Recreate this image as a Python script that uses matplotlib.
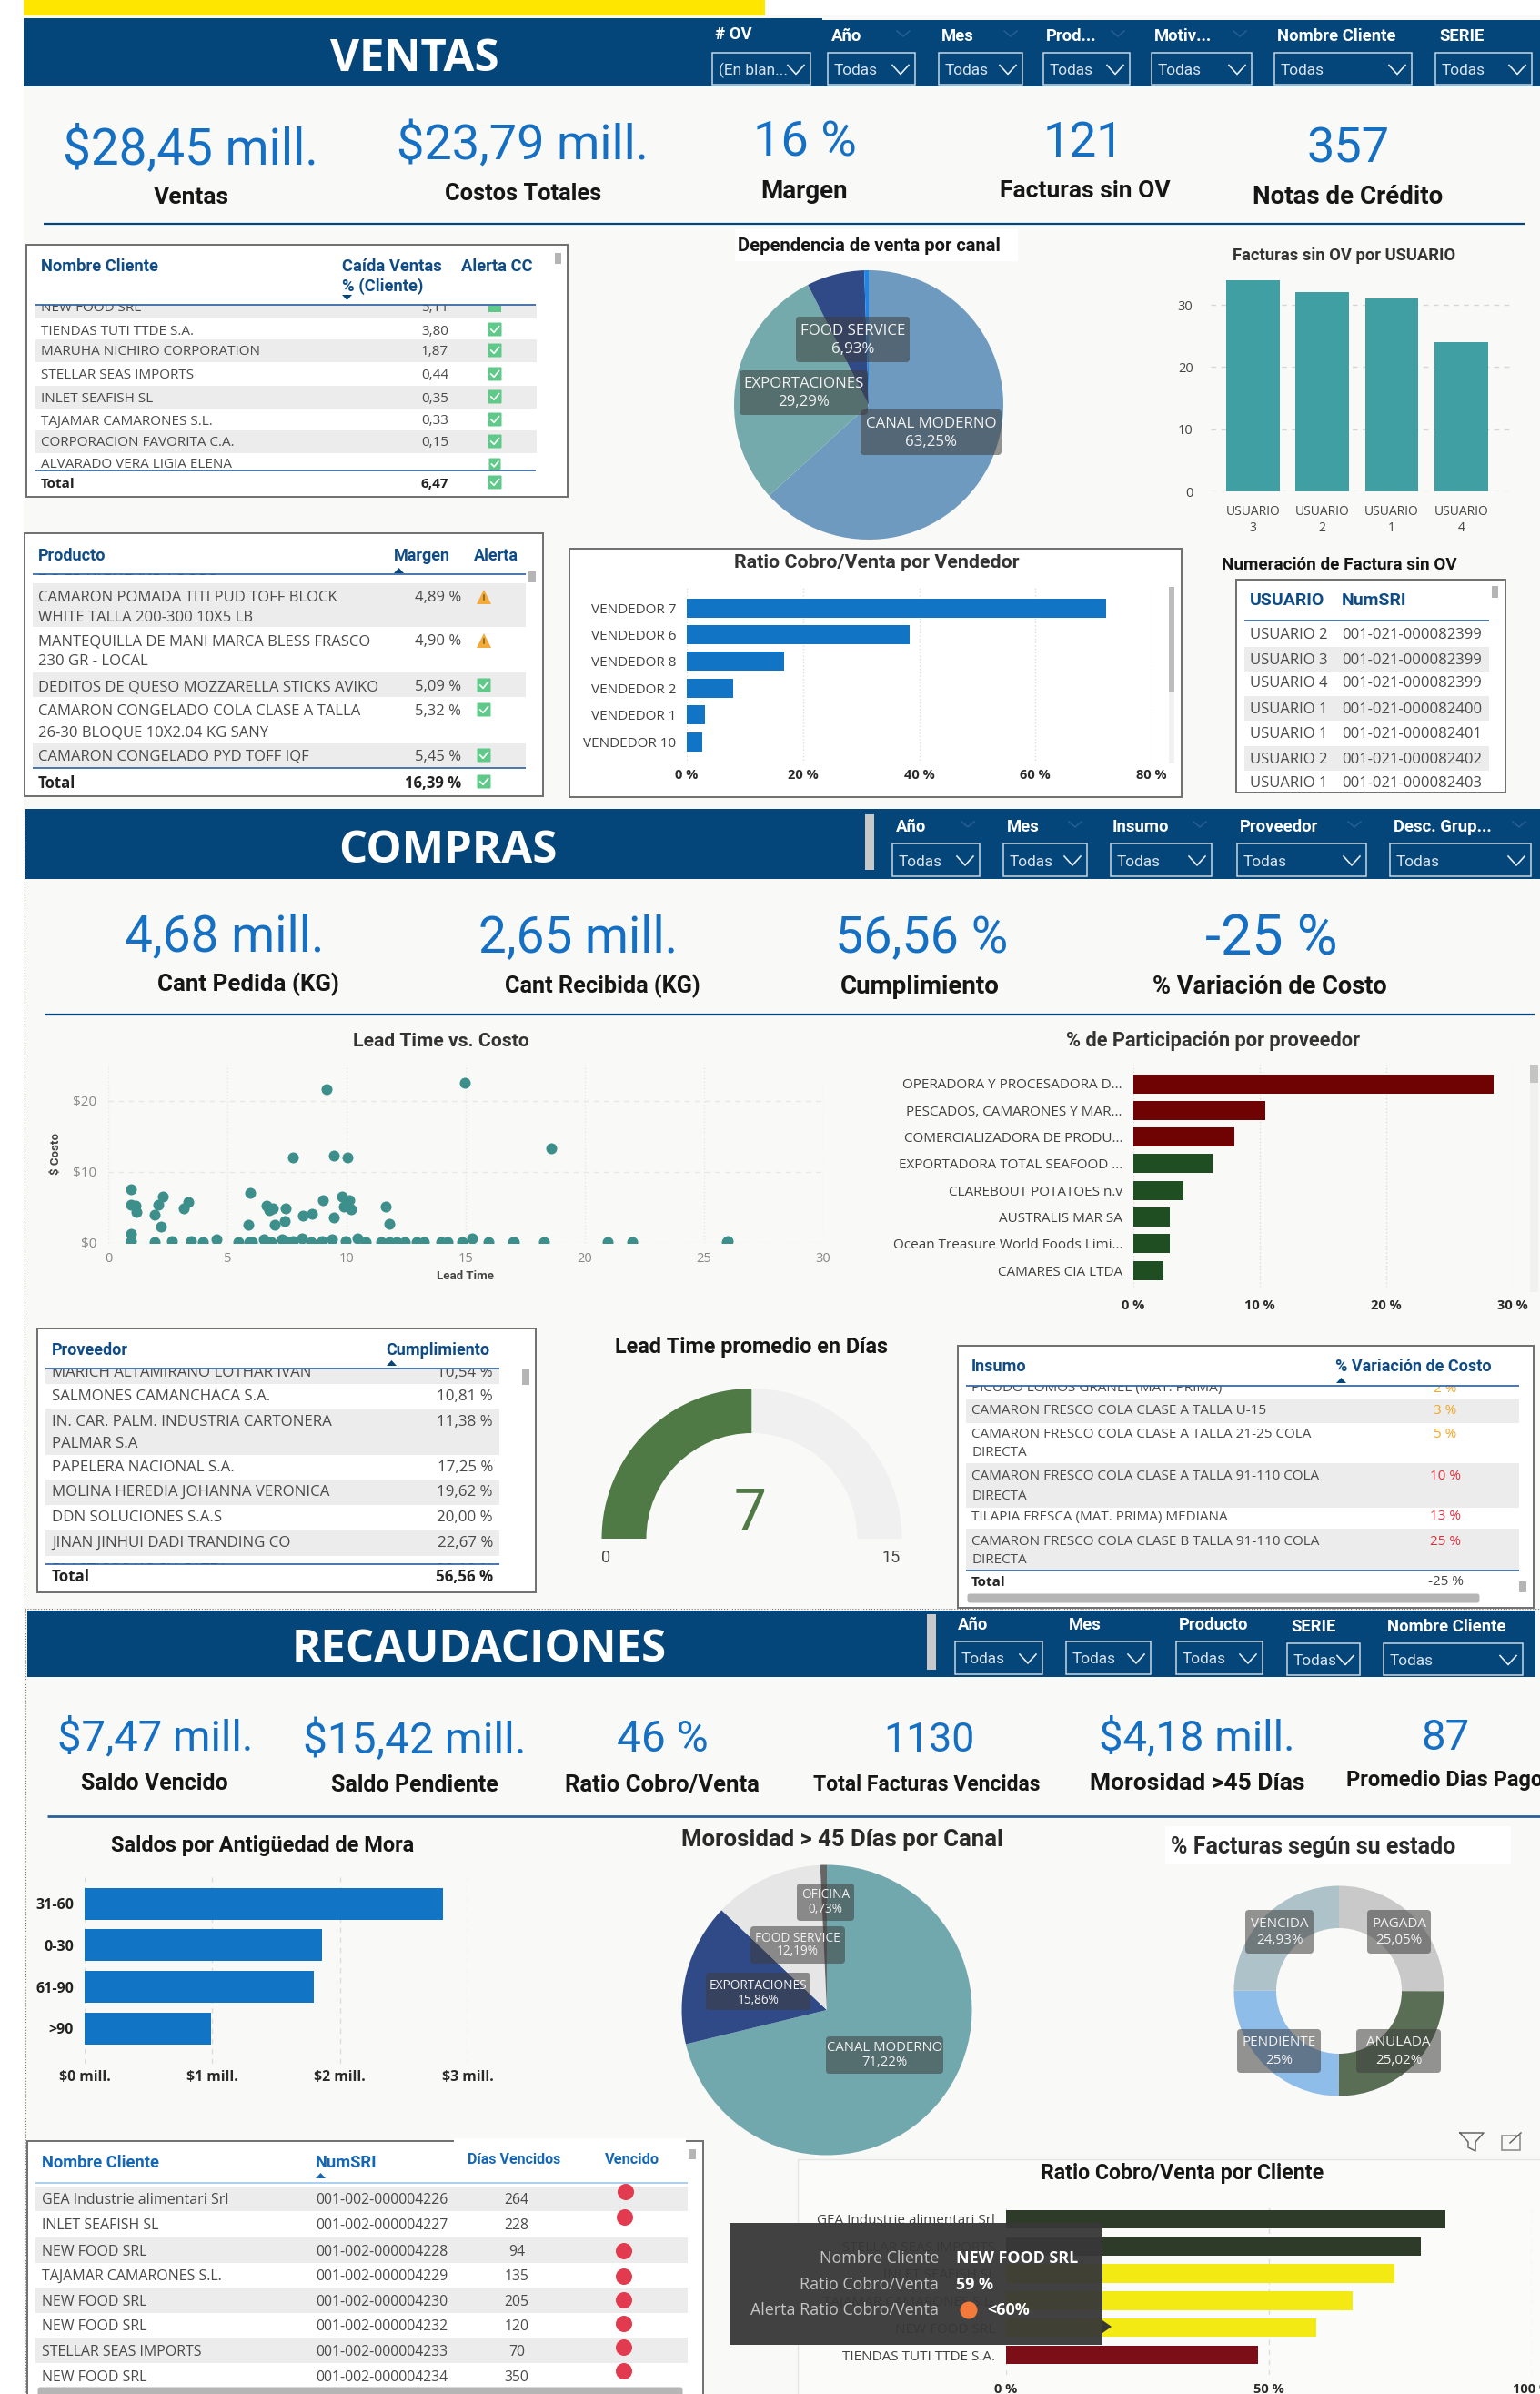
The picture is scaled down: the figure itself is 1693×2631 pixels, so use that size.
import matplotlib
matplotlib.use("Agg")
import matplotlib.pyplot as plt
from matplotlib.patches import Rectangle, FancyBboxPatch, Polygon, Circle

W, H = 1693, 2631
plt.rcParams['font.family'] = ['Open Sans', 'DejaVu Sans']

# ---------- DATA ----------
canal_labels = ["CANAL MODERNO", "EXPORTACIONES", "FOOD SERVICE", "OTROS"]
canal_values = [63.25, 29.29, 6.93, 0.53]
usuarios = ["USUARIO\n3", "USUARIO\n2", "USUARIO\n1", "USUARIO\n4"]
facturas_sin_ov = [34, 32, 31, 24]
vendedores = ["VENDEDOR 7", "VENDEDOR 6", "VENDEDOR 8", "VENDEDOR 2", "VENDEDOR 1", "VENDEDOR 10"]
ratio_vendedor = [72.2, 38.4, 16.7, 8.0, 3.1, 2.7]

clientes_t1 = ["NEW FOOD SRL", "TIENDAS TUTI TTDE S.A.", "MARUHA NICHIRO CORPORATION", "STELLAR SEAS IMPORTS",
               "INLET SEAFISH SL", "TAJAMAR CAMARONES S.L.", "CORPORACION FAVORITA C.A.", "ALVARADO VERA LIGIA ELENA"]
caida_t1 = ["5,11", "3,80", "1,87", "0,44", "0,35", "0,33", "0,15", ""]
productos = ["CAMARON POMADA TITI PUD TOFF BLOCK\nWHITE TALLA 200-300 10X5 LB",
             "MANTEQUILLA DE MANI MARCA BLESS FRASCO\n230 GR - LOCAL",
             "DEDITOS DE QUESO MOZZARELLA STICKS AVIKO",
             "CAMARON CONGELADO COLA CLASE A TALLA\n26-30 BLOQUE 10X2.04 KG SANY",
             "CAMARON CONGELADO PYD TOFF IQF"]
margen = ["4,89 %", "4,90 %", "5,09 %", "5,32 %", "5,45 %"]
alerta_margen = ["warn", "warn", "ok", "ok", "ok"]
num_usuario = ["USUARIO 2", "USUARIO 3", "USUARIO 4", "USUARIO 1", "USUARIO 1", "USUARIO 2", "USUARIO 1"]
num_sri = ["001-021-000082399", "001-021-000082399", "001-021-000082399", "001-021-000082400",
           "001-021-000082401", "001-021-000082402", "001-021-000082403"]

lead_time = [9.15, 14.97, 18.6, 7.73, 9.48, 10.05, 0.96, 5.95, 2.28, 9.8, 10.1, 9.0, 3.35, 0.96, 2.1, 1.14, 6.63,
             11.65, 7.44, 3.17, 6.9, 6.74, 9.87, 10.18, 1.18, 1.95, 8.56, 8.17, 9.48, 7.4, 5.87, 7.0, 11.78, 2.2, 0.96,
             0.96, 1.95, 2.67, 3.48, 3.96, 4.55, 5.47, 5.93, 6.02, 6.52, 6.85, 7.29, 7.46, 7.73, 8.12, 8.5, 8.97, 9.39,
             9.96, 10.46, 10.79, 11.45, 11.78, 12.1, 12.43, 12.94, 13.25, 13.97, 14.23, 14.84, 15.28, 15.95, 16.97,
             17.03, 18.3, 20.97, 21.98, 25.96, 26.0]
costo = [21.6, 22.6, 13.3, 12.0, 12.3, 12.0, 7.6, 7.1, 6.5, 6.5, 6.0, 6.0, 5.7, 5.4, 5.4, 5.2, 5.2,
         5.15, 4.9, 4.9, 4.9, 4.6, 5.1, 4.8, 4.3, 4.0, 4.1, 3.9, 3.6, 3.1, 2.5, 2.5, 2.65, 2.3, 1.25,
         0.2, 0.1, 0.2, 0.25, 0.1, 0.45, 0.1, 0.1, 0.1, 0.55, 0.1, 0.5, 0.2, 0.2, 0.6, 0.15, 0.2, 0.5,
         0.2, 0.6, 0.1, 0.15, 0.1, 0.15, 0.1, 0.1, 0.1, 0.15, 0.1, 0.1, 0.7, 0.1, 0.1, 0.1, 0.1, 0.1, 0.1, 0.1, 0.2]
proveedores = ["OPERADORA Y PROCESADORA D...", "PESCADOS, CAMARONES Y MAR...", "COMERCIALIZADORA DE PRODU...",
               "EXPORTADORA TOTAL SEAFOOD ...", "CLAREBOUT POTATOES n.v", "AUSTRALIS MAR SA",
               "Ocean Treasure World Foods Limi...", "CAMARES CIA LTDA"]
participacion = [28.5, 10.4, 8.0, 6.26, 3.95, 2.9, 2.87, 2.39]
prov_colors = ["#6f0303"] * 3 + ["#1f4e22"] * 5
prov_tabla = ["MARICH ALTAMIRANO LOTHAR IVAN", "SALMONES CAMANCHACA S.A.", "IN. CAR. PALM. INDUSTRIA CARTONERA\nPALMAR S.A",
              "PAPELERA NACIONAL S.A.", "MOLINA HEREDIA JOHANNA VERONICA", "DDN SOLUCIONES S.A.S",
              "JINAN JINHUI DADI TRANDING CO", "PLASTICOS KG SU CATEA"]
cumplimiento = ["10,54 %", "10,81 %", "11,38 %", "17,25 %", "19,62 %", "20,00 %", "22,67 %", "23,18 %"]
gauge_value, gauge_max = 7.5, 15
insumos = ["PICUDO LOMOS GRANEL (MAT. PRIMA)", "CAMARON FRESCO COLA CLASE A TALLA U-15",
           "CAMARON FRESCO COLA CLASE A TALLA 21-25 COLA\nDIRECTA", "CAMARON FRESCO COLA CLASE A TALLA 91-110 COLA\nDIRECTA",
           "TILAPIA FRESCA (MAT. PRIMA) MEDIANA", "CAMARON FRESCO COLA CLASE B TALLA 91-110 COLA\nDIRECTA"]
variacion = ["2 %", "3 %", "5 %", "10 %", "13 %", "25 %"]

mora_labels = ["31-60", "0-30", "61-90", ">90"]
mora_values = [2.806, 1.859, 1.794, 0.993]
moros_labels = ["CANAL MODERNO", "EXPORTACIONES", "FOOD SERVICE", "OFICINA"]
moros_values = [71.22, 15.86, 12.19, 0.73]
estado_labels = ["PAGADA", "ANULADA", "PENDIENTE", "VENCIDA"]
estado_values = [25.05, 25.02, 25.0, 24.93]
rec_clientes = ["GEA Industrie alimentari Srl", "INLET SEAFISH SL", "NEW FOOD SRL", "TAJAMAR CAMARONES S.L.",
                "NEW FOOD SRL", "NEW FOOD SRL", "STELLAR SEAS IMPORTS", "NEW FOOD SRL"]
rec_sri = ["001-002-000004226", "001-002-000004227", "001-002-000004228", "001-002-000004229",
           "001-002-000004230", "001-002-000004232", "001-002-000004233", "001-002-000004234"]
rec_dias = [264, 228, 94, 135, 205, 120, 70, 350]
cli_labels = ["GEA Industrie alimentari Srl", "STELLAR SEAS IMPORTS", "INLET SEAFISH SL", "TAJAMAR CAMARONES S.L.",
              "NEW FOOD SRL", "TIENDAS TUTI TTDE S.A."]
cli_values = [83.6, 78.9, 73.8, 65.9, 59.0, 48.0]
cli_colors = ["#2d3b28", "#2d3b28", "#f2ea12", "#f2ea12", "#f2ea12", "#7c0e18"]

# ---------- STYLE ----------
NAVY = "#04457a"; BG = "#f9f9f7"; KPI = "#1570c4"; BAR = "#1274c5"; HEAD = "#0f4c86"
TXT = "#4a4a4a"; BAND = "#ececec"; BORDER = "#6f6f6f"; DIN = "Roboto"

fig = plt.figure(figsize=(W / 100, H / 100), dpi=100, facecolor="white")


def px_axes(x0, y0, x1, y1, z=2):
    a = fig.add_axes([x0 / W, 1 - y1 / H, (x1 - x0) / W, (y1 - y0) / H], zorder=z)
    a.patch.set_alpha(0)
    return a


base = px_axes(0, 0, W, H, 0)
over = px_axes(0, 0, W, H, 5)
for a in (base, over):
    a.set_xlim(0, W); a.set_ylim(H, 0); a.axis("off")


def T(x, y, s, size=10, color=TXT, weight="normal", ha="center", va="center", fam=None, ax=base, clip=None, **kw):
    t = ax.text(x, y + 2, s, fontsize=size, color=color, fontweight=weight, ha=ha, va=va,
                family=fam if fam else ['Open Sans', 'DejaVu Sans'], **kw)
    if clip:
        t.set_clip_path(Rectangle((clip[0], clip[1]), clip[2] - clip[0], clip[3] - clip[1], transform=ax.transData))
        t.set_clip_on(True)
    return t


def R(x0, y0, x1, y1, fc="none", ec="none", lw=1, ax=base, z=1, **kw):
    p = Rectangle((x0, y0), x1 - x0, y1 - y0, facecolor=fc, edgecolor=ec, linewidth=lw, zorder=z, **kw)
    ax.add_patch(p)
    return p


def L(x0, y0, x1, y1, c="#2a5f9e", lw=1.2, ax=base, z=3, **kw):
    ax.plot([x0, x1], [y0, y1], color=c, lw=lw, zorder=z, solid_capstyle="butt", **kw)


def check(x, y, s=15):
    base.add_patch(FancyBboxPatch((x - s / 2 + 1, y - s / 2 + 1), s - 2, s - 2, boxstyle="round,pad=1", fc="#5fc98a", ec="none", zorder=4))
    base.plot([x - s * .28, x - s * .06, x + s * .3], [y, y + s * .22, y - s * .22], color="white", lw=1.2, zorder=5)


def warn(x, y, s=16):
    base.add_patch(Polygon([(x - s / 2, y + s / 2), (x + s / 2, y + s / 2), (x, y - s / 2)], closed=True, fc="#f4a93b", ec="none", zorder=4))
    base.plot([x, x], [y - s * .12, y + s * .2], color="#7a5a20", lw=1.1, zorder=5)


def slicer(label, lx, x0, x1, ly, y0, y1, value="Todas", faint=None):
    T(lx, ly, label, 13.3, "white", "bold", ha="left", fam=DIN)
    R(x0, y0, x1, y1, ec="#c9d6e2", lw=1.1, z=3)
    T(x0 + 7, (y0 + y1) / 2, value, 12.4, "#d9e4ee", ha="left", fam=DIN, zorder=4)
    cx = x1 - 16; cy = (y0 + y1) / 2 + 1
    base.plot([cx - 9, cx, cx + 9], [cy - 5, cy + 5, cy - 5], color="#e6edf3", lw=1.2, zorder=4)
    if faint:
        base.plot([x1 - 20, x1 - 13, x1 - 6], [ly - 4, ly + 2, ly - 4], color="#245e90", lw=1.2, zorder=2)


def kpi(x, y, s, size=38):
    T(x, y + 2, s, size, KPI, "normal", fam=DIN)


def klabel(x, y, s, size=18.5):
    T(x, y, s, size, "#161616", "bold", fam=DIN)


def badge(x0, y0, x1, y1, lines, ys, size=10, cx=None):
    over.add_patch(FancyBboxPatch((x0 + 4, y0 + 4), x1 - x0 - 8, y1 - y0 - 8, boxstyle="round,pad=4", fc="#3d3d3d", alpha=.55, ec="none", zorder=6))
    for s, yy in zip(lines, ys):
        T(cx if cx else (x0 + x1) / 2, yy - 1, s, size, "#f2f2f2", ax=over, zorder=7)


def hbar(x0, x1, xmax, first, step, top, bot, vals, colors, labels, lab_size=11, lab_color="#404040", lab_weight="normal",
         height=21, ticks=None, ticklabs=None, tick_y=None, gridstyle=":", tick_size=10.5, lab_pad=12):
    a = px_axes(x0, top, x1, bot)
    ypos = list(range(len(vals)))
    a.barh(ypos, vals, height=height / step, color=colors, zorder=3)
    a.set_xlim(0, xmax)
    a.set_ylim((bot - first) / step, (top - first) / step)
    a.set_yticks(ypos); a.set_yticklabels(labels, fontsize=lab_size, color=lab_color, fontweight=lab_weight)
    a.set_xticks(ticks); a.set_xticklabels(ticklabs, fontsize=tick_size, fontweight="bold", color="#2a2a2a")
    a.tick_params(axis="both", length=0)
    a.tick_params(axis="y", pad=lab_pad * .72)
    a.tick_params(axis="x", pad=max(0, (tick_y - bot - 8)) * .72)
    a.xaxis.grid(True, ls=gridstyle, color="#dddddd", lw=1, zorder=0)
    a.set_axisbelow(True)
    for s in a.spines.values():
        s.set_visible(False)
    return a


def pie(cx, cy, r, vals, colors, width=None):
    a = px_axes(cx - r, cy - r, cx + r, cy + r)
    wp = {"linewidth": 0}
    if width:
        wp["width"] = width
    a.pie(vals, colors=colors, startangle=90, counterclock=False, radius=1, wedgeprops=wp)
    a.set_xlim(-1, 1); a.set_ylim(-1, 1); a.set_aspect("auto")
    return a


# ---------- BACKGROUND ----------
R(26, 17, W, H, fc=BG, z=0)
R(26, 0, 841, 17, fc="#ffe600")
R(26, 20, 904, 95, fc=NAVY); R(904, 22, W, 95, fc=NAVY)
R(27, 889, W, 966, fc=NAVY)
R(30, 1770, 1688, 1843, fc=NAVY)
L(27, 880, 27, 1768, c="#777777", lw=.8, ls=":")
L(27, 1768, W, 1768, c="#777777", lw=.8, ls=":")
L(28, 1768, 28, 2631, c="#777777", lw=.8, ls=":")
L(48, 246, 1676, 246, c=NAVY, lw=1.6)
L(49, 1115, 1687, 1115, c=NAVY, lw=1.6)
L(52, 1995.5, W, 1995.5, c="#2a6099", lw=2)

T(456, 64, "VENTAS", 35.5, "white", "bold")
T(492, 934, "COMPRAS", 35.5, "white", "bold")
T(527, 1812, "RECAUDACIONES", 35.5, "white", "bold")

# ---------- SLICERS ----------
slicer("# OV", 786, 783, 891, 36, 58, 93, "(En blan...")
for lab, lx, x0, x1 in [("Año", 914, 910, 1006), ("Mes", 1035, 1032, 1124), ("Prod...", 1150, 1147, 1242),
                        ("Motiv...", 1269, 1266, 1376), ("Nombre Cliente", 1404, 1401, 1552), ("SERIE", 1582, 1578, 1684)]:
    slicer(lab, lx, x0, x1, 38, 58, 93, faint=lab in ("Año", "Mes", "Prod...", "Motiv..."))
R(951, 895, 961, 956, fc="#c8c8c8", z=2)
for lab, lx, x0, x1 in [("Año", 985, 981, 1077), ("Mes", 1107, 1103, 1195), ("Insumo", 1223, 1221, 1332),
                        ("Proveedor", 1363, 1360, 1502), ("Desc. Grup...", 1532, 1528, 1683)]:
    slicer(lab, lx, x0, x1, 907, 927, 963, faint=True)
R(1019, 1774, 1029, 1835, fc="#c8c8c8", z=2)
for lab, lx, x0, x1, ly, y0, y1 in [("Año", 1053, 1050, 1146, 1784, 1804, 1840), ("Mes", 1175, 1172, 1265, 1784, 1804, 1840),
                                    ("Producto", 1295.5, 1292.5, 1388, 1784, 1804, 1840), ("SERIE", 1419, 1415, 1495, 1786, 1806, 1841),
                                    ("Nombre Cliente", 1525, 1521, 1674, 1786, 1806, 1841)]:
    slicer(lab, lx, x0, x1, ly, y0, y1)

# ---------- KPIS ----------
for x, y, s, z in [(209, 160, "$28,45 mill.", 39.5), (575, 156, "$23,79 mill.", 39), (885, 153, "16 %", 39), (1191, 153, "121", 38), (1482, 160, "357", 39)]:
    kpi(x, y, s, z)
for x, y, s, z in [(210, 215, "Ventas", 19), (575, 211, "Costos Totales", 18.3), (884, 208, "Margen", 20), (1193, 208, "Facturas sin OV", 19), (1482, 214, "Notas de Crédito", 20)]:
    klabel(x, y, s, z)
for x, y, s, z in [(247, 1026, "4,68 mill.", 39.5), (636, 1027, "2,65 mill.", 39.5), (1013, 1028, "56,56 %", 40), (1398, 1028, "-25 %", 44)]:
    kpi(x, y, s, z)
for x, y, s, z in [(273, 1080, "Cant Pedida (KG)", 18.6), (662, 1082, "Cant Recibida (KG)", 18.2), (1011, 1083, "Cumplimiento", 20), (1396, 1083, "% Variación de Costo", 19.5)]:
    klabel(x, y, s, z)
for x, y, s, z in [(171, 1906, "$7,47 mill.", 34), (456, 1909, "$15,42 mill.", 34.5), (728, 1908, "46 %", 34.5), (1021, 1909, "1130", 32), (1316, 1906, "$4,18 mill.", 34), (1589, 1906, "87", 34)]:
    kpi(x, y, s, z)
for x, y, s, z in [(170, 1958, "Saldo Vencido", 18), (456, 1960, "Saldo Pendiente", 18), (728, 1960, "Ratio Cobro/Venta", 18.5), (1019, 1959, "Total Facturas Vencidas", 16.5), (1316, 1958, "Morosidad >45 Días", 19)]:
    klabel(x, y, s, z)
T(1480, 1955, "Promedio Dias Pago", 17, "#161616", "bold", ha="left", fam=DIN)

# ---------- VENTAS TABLE 1 ----------
R(29, 269, 624, 546, fc="white", ec=BORDER, lw=1.4)
T(45, 291, "Nombre Cliente", 13.2, HEAD, "bold", ha="left", fam=DIN)
T(376, 291, "Caída Ventas", 13.2, HEAD, "bold", ha="left", fam=DIN)
T(376, 313, "% (Cliente)", 13.2, HEAD, "bold", ha="left", fam=DIN)
T(507, 291, "Alerta CC", 13.2, HEAD, "bold", ha="left", fam=DIN)
base.add_patch(Polygon([(376, 324), (387, 324), (381.5, 330)], fc=NAVY, zorder=4))
R(610, 278, 617, 290, fc="#b5b5b5", z=3)
ys1 = [337, 362, 385, 411, 436, 461, 485, 509]
clip1 = (39, 335, 590, 517)
for i, (n, v, y) in enumerate(zip(clientes_t1, caida_t1, ys1)):
    if i % 2 == 0 and i < 7:
        R(39, max(335, y - 12.5), 590, y + 12.5, fc=BAND)
    T(45, y, n, 11, TXT, ha="left", clip=clip1)
    T(493, y, v, 11, TXT, ha="right", clip=clip1)
    if 345 < y < 505:
        check(544, y)
R(537, 336, 551, 343, fc="#5fc98a", z=4)
L(39, 335, 589, 335); L(39, 517, 589, 517)
check(544, 510, 13)
T(45, 530, "Total", 11, "#222222", "bold", ha="left")
T(493, 530, "6,47", 11, "#222222", "bold", ha="right")
check(544, 530)

# ---------- VENTAS TABLE 2 ----------
R(27, 586, 597, 875, fc="white", ec=BORDER, lw=1.4)
T(42, 609, "Producto", 13, HEAD, "bold", ha="left", fam=DIN)
T(433, 609, "Margen", 13, HEAD, "bold", ha="left", fam=DIN)
T(521, 609, "Alerta", 13, HEAD, "bold", ha="left", fam=DIN)
base.add_patch(Polygon([(433, 630), (444, 630), (438.5, 624)], fc=NAVY, zorder=4))
R(581, 628, 589, 640, fc="#b5b5b5", z=3)
T(42, 626, "2-3 LB HIGHLAND FOODS", 12, TXT, ha="left", clip=(36, 631, 578, 640))
L(36, 631, 578, 631)
bands2 = [(641, 689), None, (739, 766), None, (817, 843)]
lines2 = [(655, 677), (703, 725), (753,), (780, 804), (830,)]
for p, m, al, band, yy in zip(productos, margen, alerta_margen, bands2, lines2):
    if band:
        R(36, band[0], 578, band[1], fc=BAND)
    for s, y in zip(p.split("\n"), yy):
        T(42, y, s, 12, TXT, ha="left")
    T(507, yy[0], m, 12, TXT, ha="right")
    (warn if al == "warn" else check)(532, yy[0] + (1 if al == "warn" else 0))
L(36, 844, 578, 844)
T(42, 859, "Total", 12, "#222222", "bold", ha="left")
T(507, 859, "16,39 %", 12, "#222222", "bold", ha="right")
check(532, 859)

# ---------- VENTAS PIE ----------
R(808, 252, 1119, 287, fc="white")
T(955, 269, "Dependencia de venta por canal", 14.5, "#161616", "bold", fam=DIN)
pie(955, 445, 148, canal_values, ["#6f9abf", "#74aaab", "#2f4a87", "#1e86e8"])
badge(875, 348, 1000, 398, ["FOOD SERVICE", "6,93%"], [363, 383], 12.2)
badge(813, 407, 954, 456, ["EXPORTACIONES", "29,29%"], [421, 441], 12.2)
badge(946, 450, 1101, 500, ["CANAL MODERNO", "63,25%"], [465, 485], 12.2)

# ---------- FACTURAS BAR ----------
T(1478, 279, "Facturas sin OV por USUARIO", 13.2, "#333333", "bold", fam=DIN)
a = px_axes(1331, 320, 1663, 540)
a.bar(range(4), facturas_sin_ov, width=.77, color="#3f9fa3", zorder=3)
a.set_xlim(-.61, 3.745); a.set_ylim(0, 220 / 6.83)
a.set_yticks([0, 10, 20, 30]); a.set_yticklabels(["0", "10", "20", "30"], fontsize=10.5, color="#444444")
a.set_xticks(range(4)); a.set_xticklabels(usuarios, fontsize=10, color="#444444", linespacing=1.25)
a.tick_params(length=0); a.tick_params(axis="y", pad=14); a.tick_params(axis="x", pad=11)
a.yaxis.grid(True, ls=(0, (4, 4)), color="#d6d6d6", lw=1)
a.set_axisbelow(True)
for c in a.patches:
    c.set_clip_on(False)
for s in a.spines.values():
    s.set_visible(False)

# ---------- VENDEDOR ----------
R(626, 603, 1299, 876, fc="white", ec=BORDER, lw=1.4)
T(964, 617, "Ratio Cobro/Venta por Vendedor", 15.4, "#333333", "bold", fam=DIN)
hbar(755, 1266, 80, 668, 29.4, 645, 839, ratio_vendedor, BAR, vendedores, 11,
     ticks=[0, 20, 40, 60, 80], ticklabs=["0 %", "20 %", "40 %", "60 %", "80 %"], tick_y=853)
R(1285, 645, 1291, 839, fc="#f1f1f1", z=3); R(1285, 645, 1291, 760, fc="#bcbcbc", z=4)

# ---------- NUMERACION ----------
T(1472, 619, "Numeración de Factura sin OV", 13.6, "#161616", "bold", fam=DIN)
R(1359, 637, 1655, 871, fc="white", ec=BORDER, lw=1.4)
T(1374, 658, "USUARIO", 14, HEAD, "bold", ha="left", fam=DIN)
T(1475, 658, "NumSRI", 14, HEAD, "bold", ha="left", fam=DIN)
L(1368, 682, 1637, 682)
R(1640, 644, 1647, 657, fc="#b5b5b5", z=3)
for i, (u, n, y) in enumerate(zip(num_usuario, num_sri, [696, 724, 749, 778, 805, 833, 859])):
    if i % 2 == 1:
        R(1368, y - 13.5, 1637, y + 13.5, fc=BAND)
    T(1374, y, u, 12, TXT, ha="left", clip=(1360, 685, 1640, 870))
    T(1475, y, n, 12, TXT, ha="left", clip=(1360, 685, 1640, 870))

# ---------- SCATTER ----------
T(485, 1142, "Lead Time vs. Costo", 15.2, "#333333", "bold", fam=DIN)
a = px_axes(119, 1170, 905, 1366)
a.scatter(lead_time, costo, s=75, color="#3d8f8b", linewidths=0, zorder=3)
a.set_xlim(0, 30); a.set_ylim(0, 25.1)
a.set_xticks([0, 5, 10, 15, 20, 25, 30]); a.set_yticks([0, 10, 20])
a.set_yticklabels(["$0", "$10", "$20"], fontsize=11, color="#888888")
a.set_xticklabels(["0", "5", "10", "15", "20", "25", "30"], fontsize=10.5, color="#888888")
a.tick_params(length=0); a.tick_params(axis="y", pad=9); a.tick_params(axis="x", pad=7)
a.yaxis.grid(True, ls=(0, (4, 4)), color="#e8e8e4", lw=1); a.xaxis.grid(True, ls=":", color="#e8e8e4", lw=1)
a.set_axisbelow(True)
for s in a.spines.values():
    s.set_visible(False)
T(62, 1266, "$ Costo", 9.5, "#444444", "bold", rotation=90, fam=DIN)
T(511, 1401, "Lead Time", 9.5, "#444444", "bold", fam=DIN)

# ---------- PARTICIPACION ----------
T(1333, 1142, "% de Participación por proveedor", 15.7, "#333333", "bold", fam=DIN)
hbar(1246, 1663, 30, 1191, 29.3, 1170, 1414, participacion, prov_colors, proveedores, 11,
     ticks=[0, 10, 20, 30], ticklabs=["0 %", "10 %", "20 %", "30 %"], tick_y=1436)
R(1682, 1170, 1691, 1420, fc="#f1f1f1", z=1); R(1682, 1170, 1691, 1190, fc="#c4c4c4", z=2)

# ---------- PROVEEDOR TABLE ----------
R(41, 1460, 589, 1750, fc="white", ec=BORDER, lw=1.4)
T(57, 1482, "Proveedor", 13, HEAD, "bold", ha="left", fam=DIN)
T(424, 1482, "Cumplimiento", 13, HEAD, "bold", ha="left", fam=DIN)
base.add_patch(Polygon([(425, 1501), (436, 1501), (430.5, 1495)], fc=NAVY, zorder=4))
clip3 = (50, 1504, 550, 1719)
rows3 = [(1507,), (1533,), (1561, 1585), (1611,), (1638,), (1666,), (1694,), (1724,)]
bands3 = [(1504, 1521), None, (1548, 1599), None, (1626, 1654), None, (1682, 1710), None]
for p, c, yy, b in zip(prov_tabla, cumplimiento, rows3, bands3):
    if b:
        R(50, b[0], 549, b[1], fc=BAND)
    for s, y in zip(p.split("\n"), yy):
        T(57, y, s, 12.2, TXT, ha="left", clip=clip3)
    T(542, yy[0], c, 12.2, TXT, ha="right", clip=clip3)
L(50, 1504, 549, 1504); L(50, 1719, 549, 1719)
T(57, 1731, "Total", 12.2, "#222222", "bold", ha="left")
T(542, 1731, "56,56 %", 12.2, "#222222", "bold", ha="right")
R(574, 1504, 582, 1522, fc="#b5b5b5", z=3)

# ---------- GAUGE ----------
T(826, 1479, "Lead Time promedio en Días", 16.8, "#161616", "bold", fam=DIN)
a = px_axes(826.5 - 165, 1691 - 165, 826.5 + 165, 1691 + 165)
w, _ = a.pie([gauge_value, gauge_max - gauge_value, gauge_max], colors=["#4f7a45", "#f0f0f0", "none"], startangle=180,
             counterclock=False, radius=1, wedgeprops={"width": 49 / 165, "linewidth": 0})
a.set_xlim(-1, 1); a.set_ylim(-1, 1); a.set_aspect("auto")
T(825, 1662, "7", 46, "#4f7a45", fam=DIN, ax=over)
T(666, 1710, "0", 13, "#444444", fam=DIN, ax=over)
T(980, 1710, "15", 13, "#444444", fam=DIN, ax=over)

# ---------- INSUMO TABLE ----------
R(1053, 1479, 1686, 1767, fc="white", ec=BORDER, lw=1.4)
T(1068, 1500, "Insumo", 13, HEAD, "bold", ha="left", fam=DIN)
T(1468, 1500, "% Variación de Costo", 13, HEAD, "bold", ha="left", fam=DIN)
base.add_patch(Polygon([(1469, 1520), (1480, 1520), (1474.5, 1514)], fc=NAVY, zorder=4))
clip4 = (1062, 1523, 1670, 1726)
rows4 = [(1524,), (1549,), (1574, 1595), (1621, 1643), (1665,), (1692, 1713)]
bands4 = [None, (1538, 1564), None, (1608, 1657), None, (1680, 1725)]
col4 = ["#f5a623", "#f5a623", "#f5a623", "#d9303e", "#d9303e", "#d9303e"]
for p, v, yy, b, c in zip(insumos, variacion, rows4, bands4, col4):
    if b:
        R(1062, b[0], 1670, b[1], fc=BAND)
    for s, y in zip(p.split("\n"), yy):
        T(1068, y, s, 11, TXT, ha="left", clip=clip4)
    T(1589, yy[0], v, 11, c, clip=clip4)
L(1062, 1523, 1670, 1523); L(1062, 1725.5, 1670, 1725.5)
T(1068, 1737, "Total", 11, "#222222", "bold", ha="left")
T(1589, 1737, "-25 %", 11, "#444444")
base.add_patch(FancyBboxPatch((1066, 1754), 558, 5, boxstyle="round,pad=2.5", fc="#b5b5b5", ec="none", zorder=3))
R(1670, 1738, 1678, 1750, fc="#b5b5b5", z=3)

# ---------- MORA BAR ----------
T(289, 2026, "Saldos por Antigüedad de Mora", 16.9, "#161616", "bold", fam=DIN)
hbar(93, 514, 3, 2092, 45.8, 2063, 2268, mora_values, BAR, mora_labels, 11.5, lab_color="#222222", lab_weight="bold",
     height=35, ticks=[0, 1, 2, 3], ticklabs=["$0 mill.", "$1 mill.", "$2 mill.", "$3 mill."], tick_y=2283, gridstyle=(0, (4, 4)), tick_size=11.3)

# ---------- MOROSIDAD PIE ----------
T(926, 2020, "Morosidad > 45 Días por Canal", 18.5, "#2a2a2a", "bold", fam=DIN)
pie(909, 2209, 159.5, moros_values, ["#71a8ad", "#2f4a87", "#e6e6e6", "#666666"])
badge(876, 2070, 939, 2111, ["OFICINA", "0,73%"], [2082, 2098], 9.8)
badge(825, 2117, 929, 2158, ["FOOD SERVICE", "12,19%"], [2129, 2144], 9.8)
badge(776, 2168, 891, 2209, ["EXPORTACIONES", "15,86%"], [2181, 2197], 9.8)
badge(908, 2238, 1037, 2279, ["CANAL MODERNO", "71,22%"], [2249, 2266], 10.7)

# ---------- ESTADO DONUT ----------
R(1281, 2007, 1661, 2048, fc="white")
T(1444, 2028, "% Facturas según su estado", 18, "#2a2a2a", "bold", fam=DIN)
pie(1472, 2188, 115.5, estado_values, ["#c9c9c9", "#5a6e55", "#8fbdea", "#aec3c9"], width=(115.5 - 69) / 115.5)
badge(1369, 2099, 1444, 2147, ["VENCIDA", "24,93%"], [2113, 2132], 11)
badge(1503, 2099, 1573, 2147, ["PAGADA", "25,05%"], [2113, 2132], 11)
badge(1360, 2230, 1452, 2278, ["PENDIENTE", "25%"], [2244, 2263], 11)
badge(1491, 2230, 1584, 2278, ["ANULADA", "25,02%"], [2244, 2263], 11)

# ---------- RECAUD TABLE ----------
R(30, 2353, 773, 2650, fc="white", ec=BORDER, lw=1.4)
R(499, 2350, 754, 2395, fc="white", z=2)
T(46, 2375, "Nombre Cliente", 13.2, "#1567b5", "bold", ha="left", fam=DIN)
T(347, 2375, "NumSRI", 13.2, "#1567b5", "bold", ha="left", fam=DIN)
T(514, 2372, "Días Vencidos", 11.5, "#1567b5", "bold", ha="left", fam=DIN, zorder=4)
T(665, 2372, "Vencido", 11.8, "#1567b5", "bold", ha="left", fam=DIN, zorder=4)
base.add_patch(Polygon([(347, 2394), (358, 2394), (352.5, 2388)], fc="#1567b5", zorder=4))
L(39, 2399, 756, 2399, c="#9cc8ee")
R(757, 2362, 765, 2373, fc="#b5b5b5", z=3)
ys5 = [2416.5, 2444, 2473, 2500, 2528, 2555, 2583, 2611]
dots5 = [(688, 2409), (687, 2437), (686, 2474), (686, 2502), (686, 2528), (686, 2554), (686, 2580), (686, 2606)]
for i, (c, s, d, y, dp) in enumerate(zip(rec_clientes, rec_sri, rec_dias, ys5, dots5)):
    if i % 2 == 0:
        R(39, y - 14, 756, y + 13.5, fc=BAND)
    T(46, y, c, 11.5, TXT, ha="left")
    T(347, y, s, 11.3, TXT, ha="left")
    T(568, y, str(d), 11.3, TXT)
    base.add_patch(Circle(dp, 9, fc="#e23a4e", ec="none", zorder=4))
base.add_patch(FancyBboxPatch((44, 2626), 704, 6, boxstyle="round,pad=2.5", fc="#b5b5b5", ec="none", zorder=3))

# ---------- CLIENTE BAR ----------
R(877, 2373, W + 5, 2650, fc="#fbfbfa", ec="#e6e6e6", lw=1)
T(1300, 2386, "Ratio Cobro/Venta por Cliente", 16.7, "#161616", "bold", fam=DIN)
hbar(1106, 1684, 100, 2439, 29.8, 2421, 2610, cli_values, cli_colors, cli_labels, 11,
     height=20.5, ticks=[0, 50, 100], ticklabs=["0 %", "50 %", "100 %"], tick_y=2627, gridstyle=(0, (4, 4)))

# funnel + expand icons
base.plot([1605, 1631, 1622, 1622, 1614, 1614, 1605], [2344, 2344, 2354, 2364, 2360, 2354, 2344], color="#666666", lw=1.1, zorder=3)
R(1651, 2347, 1671, 2363, ec="#888888", lw=1.1, z=3)
base.plot([1660, 1672], [2355, 2344], color="#666666", lw=1.1, zorder=3)

# ---------- TOOLTIP ----------
R(802, 2443, 1212, 2577, fc="#373737", alpha=.95, ax=over, z=8)
over.add_patch(Polygon([(1212, 2550), (1222, 2557), (1212, 2564)], fc="#373737", ec="none", zorder=8))
for s, y in [("Nombre Cliente", 2480), ("Ratio Cobro/Venta", 2509), ("Alerta Ratio Cobro/Venta", 2537)]:
    T(1032, y, s, 12.9, "#c4c4c4", ha="right", ax=over, zorder=9)
T(1051, 2480, "NEW FOOD SRL", 12.9, "white", "bold", ha="left", ax=over, zorder=9)
T(1051, 2509, "59 %", 12.9, "white", "bold", ha="left", ax=over, zorder=9)
over.add_patch(Circle((1065, 2539), 9.5, fc="#f47a3c", ec="none", zorder=9))
T(1085, 2537, "<60%", 12.9, "white", "bold", ha="left", ax=over, zorder=9)

fig.savefig("out.png", dpi=100)
